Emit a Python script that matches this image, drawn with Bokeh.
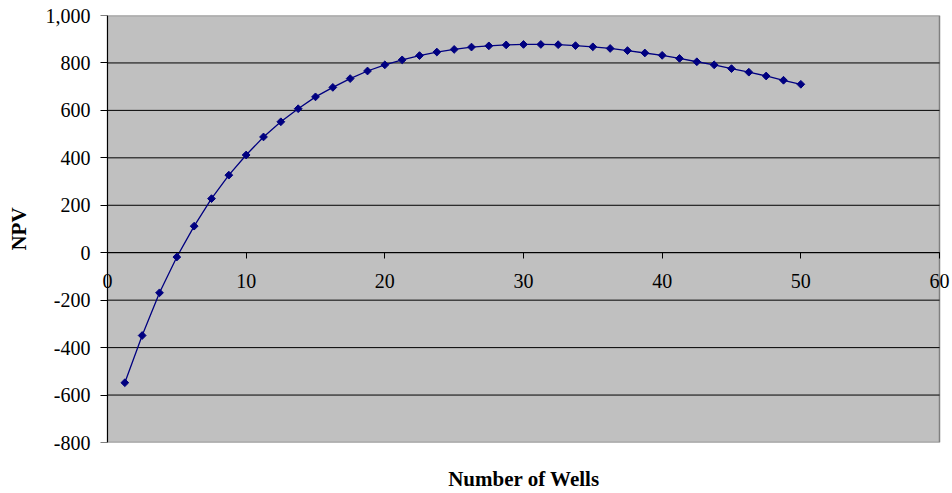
import math
from bokeh.plotting import figure
from bokeh.models import FixedTicker, NumeralTickFormatter, Range1d, ColumnDataSource, LinearAxis
from bokeh.embed import file_html
from bokeh.resources import INLINE

# Data
wells = [1.25 * k for k in range(1, 41)]
npv = [-548, -349, -169, -18, 112, 228, 327, 412, 488, 552,
       607, 657, 697, 734, 766, 792, 813, 831, 846, 857,
       867, 872, 876, 878, 878, 877, 873, 868, 861, 852,
       842, 832, 819, 805, 792, 776, 761, 745, 727, 710]

x_min, x_max = 0, 60
y_min, y_max = -800, 1000
y_ticks = [-800, -600, -400, -200, 0, 200, 400, 600, 800, 1000]
grid_ticks = [-600, -400, -200, 0, 200, 400, 600, 800]
x_ticks = [0, 10, 20, 30, 40, 50, 60]

FONT = "Liberation Serif"

# layout (pixels): frame spans 95..952 horizontally; data 0..60 spans 107..939
W, H = 952, 493
frame_left, frame_right = 95, 952
area_left, area_right = 107, 939
ppu = (area_right - area_left) / (x_max - x_min)
xr = Range1d(x_min - (area_left - frame_left) / ppu, x_max + (frame_right - area_right) / ppu)

p = figure(width=W, height=H, output_backend="svg", toolbar_location=None,
           x_range=xr, y_range=Range1d(y_min, y_max))
p.min_border_left = frame_left
p.min_border_right = W - frame_right
p.min_border_top = 15
p.min_border_bottom = 49
p.background_fill_color = "white"
p.border_fill_color = "white"
p.outline_line_color = None
p.xgrid.visible = False
p.ygrid.visible = False

# plot area
p.quad(left=[x_min], right=[x_max], bottom=[y_min], top=[y_max],
       fill_color="#C0C0C0", line_color="#808080", line_width=1.5)
p.segment(x0=[x_min] * len(grid_ticks), x1=[x_max] * len(grid_ticks),
          y0=grid_ticks, y1=grid_ticks, line_color="black", line_width=1)

# left axis: labels and title only
ya = p.yaxis[0]
ya.ticker = FixedTicker(ticks=y_ticks)
ya.formatter = NumeralTickFormatter(format="0,0")
ya.axis_line_color = None
ya.major_tick_line_color = None
ya.minor_tick_line_color = None
ya.major_tick_out = 0
ya.major_tick_in = 0
ya.major_label_text_font = FONT
ya.major_label_text_font_size = "20px"
ya.major_label_text_color = "black"
ya.major_label_standoff = 5
ya.axis_label = "NPV"
ya.axis_label_text_font = FONT
ya.axis_label_text_font_style = "bold"
ya.axis_label_text_font_size = "21px"
ya.axis_label_text_color = "black"
ya.axis_label_standoff = 12

# y axis line and ticks at x = 0
y0ax = LinearAxis(fixed_location=x_min, ticker=FixedTicker(ticks=y_ticks), bounds=(y_min, y_max))
y0ax.axis_line_color = "black"
y0ax.major_tick_line_color = "black"
y0ax.major_tick_out = 7
y0ax.major_tick_in = 0
y0ax.minor_tick_line_color = None
y0ax.major_label_text_color = None
y0ax.major_label_text_font_size = "1px"
p.add_layout(y0ax, "left")

# bottom axis carries only the title
xa = p.xaxis[0]
xa.ticker = FixedTicker(ticks=[])
xa.axis_line_color = None
xa.major_tick_line_color = None
xa.minor_tick_line_color = None
xa.axis_label = "Number of Wells"
xa.axis_label_text_font = FONT
xa.axis_label_text_font_style = "bold"
xa.axis_label_text_font_size = "21px"
xa.axis_label_text_color = "black"
xa.axis_label_standoff = 24

# x axis drawn at y = 0
x0 = LinearAxis(fixed_location=0, ticker=FixedTicker(ticks=x_ticks), bounds=(x_min, x_max))
x0.axis_line_color = "black"
x0.major_tick_line_color = "black"
x0.major_tick_out = 6
x0.major_tick_in = 0
x0.minor_tick_line_color = None
x0.major_label_text_font = FONT
x0.major_label_text_font_size = "20px"
x0.major_label_text_color = "black"
x0.major_label_standoff = 15
p.add_layout(x0, "below")

src = ColumnDataSource(dict(x=wells, y=npv))
p.line("x", "y", source=src, line_color="#000080", line_width=1.3)
p.scatter("x", "y", source=src, marker="square", angle=math.pi / 4, size=5.5,
          fill_color="#000080", line_color="#000080")

open("out.html", "w").write(file_html(p, INLINE))
